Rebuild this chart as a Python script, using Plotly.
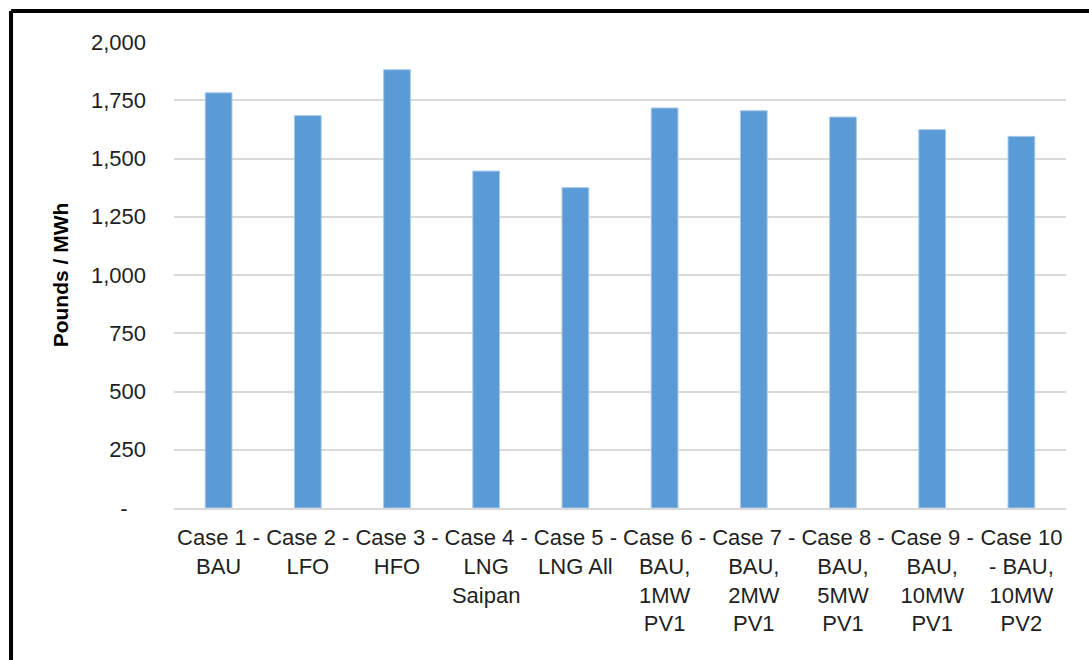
import plotly.graph_objects as go

cases = [
    "Case 1 -<br>BAU",
    "Case 2 -<br>LFO",
    "Case 3 -<br>HFO",
    "Case 4 -<br>LNG<br>Saipan",
    "Case 5 -<br>LNG All",
    "Case 6 -<br>BAU,<br>1MW<br>PV1",
    "Case 7 -<br>BAU,<br>2MW<br>PV1",
    "Case 8 -<br>BAU,<br>5MW<br>PV1",
    "Case 9 -<br>BAU,<br>10MW<br>PV1",
    "Case 10<br>- BAU,<br>10MW<br>PV2",
]
pounds_per_mwh = [1782, 1684, 1881, 1446, 1375, 1717, 1705, 1678, 1624, 1595]

y_ticks = [0, 250, 500, 750, 1000, 1250, 1500, 1750, 2000]
y_tick_text = ["-\u00a0\u00a0\u00a0", "250", "500", "750", "1,000", "1,250", "1,500", "1,750", "2,000"]

font_name = "Liberation Sans, Arial, sans-serif"
text_col = "#1f1f1f"

fig = go.Figure()
fig.add_trace(go.Bar(
    x=cases, y=pounds_per_mwh,
    marker=dict(color="#5b9bd5", line=dict(color="#a9c9ea", width=1)),
    showlegend=False,
))

# outer chart border - only the top and left edges show in the picture
border = dict(color="black", width=4)
fig.add_shape(type="line", xref="paper", yref="paper",
              x0=-0.1827, x1=1.05, y0=1.0665, y1=1.0665, line=border)
fig.add_shape(type="line", xref="paper", yref="paper",
              x0=-0.1827, x1=-0.1827, y0=-0.35, y1=1.0665, line=border)

fig.update_layout(
    width=1089, height=660,
    margin=dict(l=174, r=23, t=42, b=152),
    paper_bgcolor="white", plot_bgcolor="white",
    bargap=0.7,
    font=dict(family=font_name, size=22, color=text_col),
    xaxis=dict(
        tickfont=dict(size=22, color=text_col),
        showline=True, linecolor="#d9d9d9", linewidth=2,
        ticks="", ticklabelstandoff=9,
    ),
    yaxis=dict(
        range=[0, 2000],
        tickvals=y_ticks, ticktext=y_tick_text,
        tickfont=dict(size=22, color=text_col),
        showgrid=True, gridcolor="#d9d9d9", gridwidth=1.5,
        zeroline=False, showline=False, ticks="",
        ticklabelstandoff=27,
        title=dict(text="<b>Pounds / MWh</b>", font=dict(size=21, color="black"), standoff=16),
    ),
)

# drop the default page margin so the figure fills the window without scrollbars
no_margin = ("document.body.style.margin='0';"
             "document.body.style.overflow='hidden';"
             "document.documentElement.style.overflow='hidden';")
fig.write_html("out.html", post_script=no_margin, config={"displayModeBar": False})
